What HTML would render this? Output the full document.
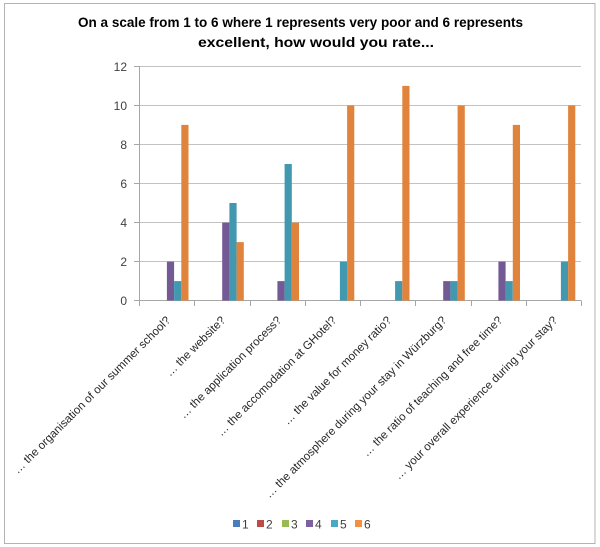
<!DOCTYPE html>
<html><head><meta charset="utf-8"><style>
html,body{margin:0;padding:0;background:#fff;}
svg{display:block;}
text{font-family:"Liberation Sans",Arial,sans-serif;}
</style></head><body>
<svg width="600" height="547" viewBox="0 0 600 547" xmlns="http://www.w3.org/2000/svg">
<rect x="0" y="0" width="600" height="547" fill="#fff"/>
<rect x="4.5" y="3.5" width="590.5" height="540" fill="#fff" stroke="#b3b3b3" stroke-width="1"/>
<!-- title -->
<text x="78" y="27" font-size="14" font-weight="bold" fill="#000" textLength="445" lengthAdjust="spacingAndGlyphs">On a scale from 1 to 6 where 1 represents very poor and 6 represents</text>
<text x="198" y="47" font-size="14" font-weight="bold" fill="#000" textLength="236" lengthAdjust="spacingAndGlyphs">excellent, how would you rate...</text>
<!-- gridlines -->
<g stroke="#c3c3c3" stroke-width="1">
<line x1="139.5" y1="66.5" x2="581" y2="66.5"/>
<line x1="139.5" y1="105.5" x2="581" y2="105.5"/>
<line x1="139.5" y1="144.5" x2="581" y2="144.5"/>
<line x1="139.5" y1="183.5" x2="581" y2="183.5"/>
<line x1="139.5" y1="222.5" x2="581" y2="222.5"/>
<line x1="139.5" y1="261.5" x2="581" y2="261.5"/>
</g>
<!-- axes -->
<g stroke="#a6a6a6" stroke-width="1">
<line x1="139.5" y1="66.5" x2="139.5" y2="300.5"/>
<line x1="134" y1="66.5" x2="139.5" y2="66.5"/>
<line x1="134" y1="105.5" x2="139.5" y2="105.5"/>
<line x1="134" y1="144.5" x2="139.5" y2="144.5"/>
<line x1="134" y1="183.5" x2="139.5" y2="183.5"/>
<line x1="134" y1="222.5" x2="139.5" y2="222.5"/>
<line x1="134" y1="261.5" x2="139.5" y2="261.5"/>
<line x1="134" y1="300.5" x2="139.5" y2="300.5"/>
<line x1="139.5" y1="300.5" x2="581" y2="300.5"/>
<line x1="139.5" y1="300.5" x2="139.5" y2="306"/>
<line x1="194.5" y1="300.5" x2="194.5" y2="306"/>
<line x1="250.5" y1="300.5" x2="250.5" y2="306"/>
<line x1="305.5" y1="300.5" x2="305.5" y2="306"/>
<line x1="360.5" y1="300.5" x2="360.5" y2="306"/>
<line x1="415.5" y1="300.5" x2="415.5" y2="306"/>
<line x1="471.5" y1="300.5" x2="471.5" y2="306"/>
<line x1="526.5" y1="300.5" x2="526.5" y2="306"/>
<line x1="581.5" y1="300.5" x2="581.5" y2="306"/>
</g>
<!-- y labels -->
<g font-size="12" fill="#404040" text-anchor="end">
<text x="127" y="71">12</text>
<text x="127" y="110">10</text>
<text x="127" y="149">8</text>
<text x="127" y="188">6</text>
<text x="127" y="227">4</text>
<text x="127" y="266">2</text>
<text x="127" y="305">0</text>
</g>
<!-- bars -->
<g>
<rect x="166.9" y="261.6" width="7.2" height="39.0" fill="#745A95"/>
<rect x="174.1" y="281.1" width="7.2" height="19.5" fill="#4198AF"/>
<rect x="181.3" y="124.9" width="7.2" height="175.7" fill="#E0843D"/>
<rect x="222.2" y="222.6" width="7.2" height="78.0" fill="#745A95"/>
<rect x="229.4" y="203.0" width="7.2" height="97.6" fill="#4198AF"/>
<rect x="236.6" y="242.1" width="7.2" height="58.5" fill="#E0843D"/>
<rect x="277.4" y="281.1" width="7.2" height="19.5" fill="#745A95"/>
<rect x="284.6" y="164.0" width="7.2" height="136.6" fill="#4198AF"/>
<rect x="291.8" y="222.6" width="7.2" height="78.0" fill="#E0843D"/>
<rect x="339.9" y="261.6" width="7.2" height="39.0" fill="#4198AF"/>
<rect x="347.1" y="105.4" width="7.2" height="195.2" fill="#E0843D"/>
<rect x="395.1" y="281.1" width="7.2" height="19.5" fill="#4198AF"/>
<rect x="402.3" y="85.9" width="7.2" height="214.7" fill="#E0843D"/>
<rect x="443.2" y="281.1" width="7.2" height="19.5" fill="#745A95"/>
<rect x="450.4" y="281.1" width="7.2" height="19.5" fill="#4198AF"/>
<rect x="457.6" y="105.4" width="7.2" height="195.2" fill="#E0843D"/>
<rect x="498.4" y="261.6" width="7.2" height="39.0" fill="#745A95"/>
<rect x="505.6" y="281.1" width="7.2" height="19.5" fill="#4198AF"/>
<rect x="512.8" y="124.9" width="7.2" height="175.7" fill="#E0843D"/>
<rect x="560.9" y="261.6" width="7.2" height="39.0" fill="#4198AF"/>
<rect x="568.1" y="105.4" width="7.2" height="195.2" fill="#E0843D"/>
</g>
<!-- x labels -->
<g font-size="11.5" fill="#262626" text-anchor="end">
<text transform="translate(171,321) rotate(-45)">… the organisation of our summer school?</text>
<text transform="translate(226,321) rotate(-45)">… the website?</text>
<text transform="translate(282,321) rotate(-45)">… the application process?</text>
<text transform="translate(337,321) rotate(-45)">… the accomodation at GHotel?</text>
<text transform="translate(392,321) rotate(-45)">… the value for money ratio?</text>
<text transform="translate(447,321) rotate(-45)">… the atmosphere during your stay in Würzburg?</text>
<text transform="translate(503,321) rotate(-45)">… the ratio of teaching and free time?</text>
<text transform="translate(558,321) rotate(-45)">… your overall experience during your stay?</text>
</g>
<!-- legend -->
<g font-size="12" fill="#404040">
<rect x="233" y="520" width="7" height="7" fill="#4A7EBB"/><text x="242" y="528.5">1</text>
<rect x="257" y="520" width="7" height="7" fill="#BE4B48"/><text x="266" y="528.5">2</text>
<rect x="282" y="520" width="7" height="7" fill="#98B954"/><text x="291" y="528.5">3</text>
<rect x="306" y="520" width="7" height="7" fill="#7D60A0"/><text x="315" y="528.5">4</text>
<rect x="331" y="520" width="7" height="7" fill="#46AAC5"/><text x="340" y="528.5">5</text>
<rect x="355" y="520" width="7" height="7" fill="#F38F43"/><text x="364" y="528.5">6</text>
</g>
</svg>
</body></html>
